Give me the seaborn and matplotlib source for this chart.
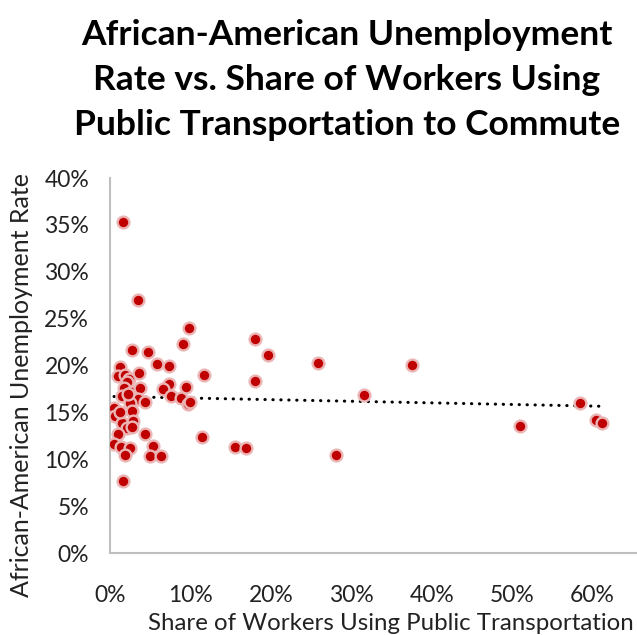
import matplotlib
matplotlib.use("Agg")
import matplotlib.pyplot as plt
import seaborn as sns
import pandas as pd
from matplotlib.ticker import PercentFormatter

# Share of workers using public transportation (%)
transit_share = [1.58, 3.52, 9.87, 9.12, 2.78, 4.77, 5.89, 7.30, 11.7, 1.24,
                 1.04, 1.87, 2.40, 3.65, 2.07, 1.74, 2.70, 3.73, 1.45, 2.49,
                 3.52, 4.30, 0.50, 2.50, 2.70, 0.62, 1.45, 2.90, 2.07, 2.78,
                 4.35, 1.04, 0.50, 1.33, 2.49, 1.87, 5.39, 4.98, 6.38, 1.58,
                 7.34, 6.63, 9.41, 7.55, 8.79, 9.74, 9.95, 11.4, 18.0, 19.7,
                 25.9, 18.0, 31.6, 15.5, 16.9, 28.1, 37.6, 51.0, 58.4, 60.4,
                 61.2, 2.20, 1.30]
# African-American unemployment rate (%)
unemployment = [35.3, 27.0, 24.0, 22.3, 21.7, 21.4, 20.2, 19.9, 19.0, 19.8,
                18.9, 19.0, 18.6, 19.2, 18.2, 17.6, 17.2, 17.6, 16.7, 16.3,
                16.4, 16.1, 15.5, 16.0, 15.1, 14.6, 13.9, 14.1, 13.3, 13.4,
                12.7, 12.7, 11.6, 11.3, 11.2, 10.5, 11.4, 10.3, 10.3, 7.7,
                18.0, 17.5, 17.7, 16.7, 16.5, 15.9, 16.1, 12.4, 22.8, 21.1,
                20.3, 18.3, 16.9, 11.3, 11.2, 10.5, 20.05, 13.6, 16.0, 14.2,
                13.9, 17.0, 15.0]

title = "African-American Unemployment\nRate vs. Share of Workers Using\nPublic Transportation to Commute"
x_label = "Share of Workers Using Public Transportation"
y_label = "African-American Unemployment Rate"

df = pd.DataFrame({"share": transit_share, "rate": unemployment})

sns.set_style("white")
plt.rcParams["font.family"] = ["Lato", "DejaVu Sans"]

W, H = 637, 635
fig = plt.figure(figsize=(W / 100, H / 100), dpi=100)
left, right_px, top, bottom = 110, 673, 178, 553
ax = fig.add_axes([left / W, 1 - bottom / H, (right_px - left) / W, (bottom - top) / H])

sns.regplot(data=df, x="share", y="rate", scatter=False, ci=None, ax=ax,
            line_kws=dict(color="black", lw=2.2, linestyle=(0, (0.1, 2.5)),
                          dash_capstyle="round"))
sns.scatterplot(data=df, x="share", y="rate", ax=ax, s=72, color="#C00000",
                edgecolor="#EBB5B5", linewidth=1.7, zorder=3)

ax.set_xlim(0, 70)
ax.set_ylim(0, 40)
ax.set_xticks(range(0, 70, 10))
ax.set_yticks(range(0, 41, 5))
ax.xaxis.set_major_formatter(PercentFormatter(decimals=0))
ax.yaxis.set_major_formatter(PercentFormatter(decimals=0))
ax.tick_params(axis="y", length=0, labelsize=16.5, colors="#222222", pad=15)
ax.tick_params(axis="x", length=0, labelsize=16.5, colors="#222222", pad=23)
ax.set_xlabel("")
ax.set_ylabel("")
for s in ["top", "right"]:
    ax.spines[s].set_visible(False)
for s in ["left", "bottom"]:
    ax.spines[s].set_color("#BFBFBF")
    ax.spines[s].set_linewidth(1.5)

fig.text(391 / W, 1 - 624 / H, x_label, ha="center", va="center", fontsize=17.3, color="#222222")
fig.text(22 / W, 1 - 385 / H, y_label, ha="center", va="center", rotation=90, fontsize=18, color="#222222")
fig.text(347 / W, 1 - 80 / H, title, ha="center", va="center", fontsize=25.5,
         fontweight="bold", linespacing=1.5, color="black")

fig.savefig("out.png", dpi=100)
